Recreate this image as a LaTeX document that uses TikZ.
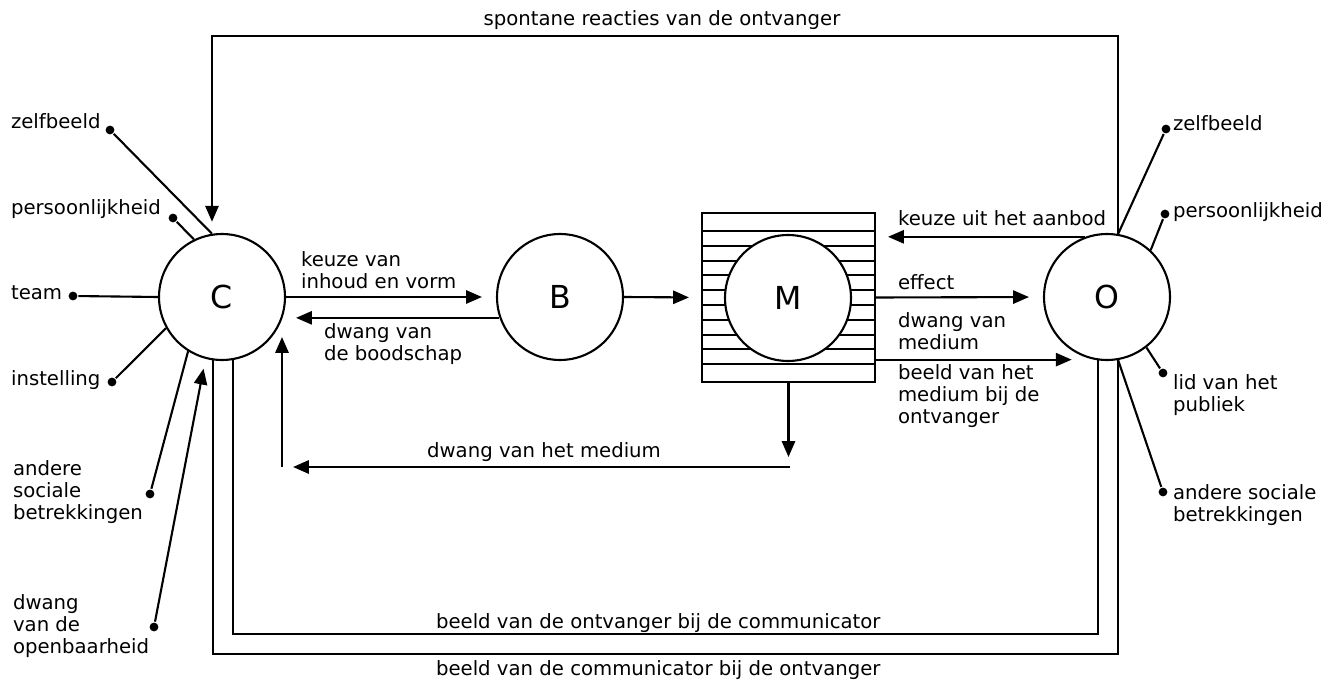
\documentclass[tikz,border=0pt]{standalone}
\usepackage{fontspec}
\setmainfont{DejaVu Sans}
\usetikzlibrary{arrows.meta}

\tikzset{
  rondje/.style={draw, circle, fill=white, minimum size=2.52cm, inner sep=0pt, font=\fontsize{18}{20}\selectfont},
  punt/.style={circle, fill, inner sep=0pt, minimum size=5pt},
  tekst/.style={anchor=west, align=left, inner sep=0pt},
  pijl/.style={-{Triangle[length=9pt,width=7.5pt]}},
}

\begin{document}
\begin{tikzpicture}[x=0.02cm, y=-0.02cm, line width=1.2pt, font=\fontsize{11.2}{12.5}\selectfont]
        \useasboundingbox (0,0) rectangle (1336,682);

        % medium met strepen
        \node[draw, minimum width=3.46cm, minimum height=3.38cm, inner sep=0pt] (Mbox) at (788.5,297.5) {};
        \foreach \i in {1,...,10}
            \draw (702,{231+(\i-1)*14.8}) -- (875,{231+(\i-1)*14.8});

        \node[rondje] (C) at (222,297) {C};
        \node[rondje] (B) at (560,297) {B};
        \node[rondje] (M) at (788,298) {M};
        \node[rondje] (O) at (1107,297) {O};

        % communicator
        \node[punt] (cz) at (110,130) {};
        \node[punt] (cp) at (173,218) {};
        \node[punt] (ct) at (73,296) {};
        \node[punt] (ci) at (112,382) {};
        \node[punt] (ca) at (150,494) {};
        \node[punt] (cd) at (154,627) {};
        \node[tekst] (lcz) at (10,121) {zelfbeeld};
        \node[tekst] (lcp) at (10,209) {persoonlijkheid};
        \node[tekst] (lct) at (10,293) {team};
        \node[tekst] (lci) at (10,380) {instelling};
        \node[tekst] (lca) at (12,492) {andere\\sociale\\betrekkingen};
        \node[tekst] (lcd) at (12,626) {dwang\\van de\\openbaarheid};
        \draw (cz) -- (C.99);
        \draw (cp) -- (C.116);
        \draw (ct) -- (C.180);
        \draw (ci) -- (C.209);
        \draw (ca) -- (C.238);
        \draw[pijl, shorten >=2mm] (cd) -- (C.255);

        % ontvanger
        \node[punt] (oz) at (1166,129) {};
        \node[punt] (op) at (1165,214) {};
        \node[punt] (ol) at (1163,373) {};
        \node[punt] (oa) at (1163,492) {};
        \node[tekst] (loz) at (1172,123) {zelfbeeld};
        \node[tekst] (lop) at (1172,212) {persoonlijkheid};
        \node[tekst] (lol) at (1172,395) {lid van het\\publiek};
        \node[tekst] (loa) at (1172,505) {andere sociale\\betrekkingen};
        \draw (O.80) -- (oz);
        \draw (O.47) -- (op);
        \draw (O.308) -- (ol);
        \draw (O.280) -- (oa);

        % terugkoppelingen
        \coordinate (boven) at (665,36);
        \coordinate (onder1) at (665,634);
        \coordinate (onder2) at (665,654);
        \draw[pijl, shorten >=2.4mm] (O.80) |- (boven) -| (C.99);
        \draw (C.280) |- (onder1) -| (O.262);
        \draw (C.262) |- (onder2) -| (O.280);
        \node (lboven) at (662,20) {spontane reacties van de ontvanger};
        \node[tekst] (londer1) at (435,623) {beeld van de ontvanger bij de communicator};
        \node[tekst] (londer2) at (435,670) {beeld van de communicator bij de ontvanger};

        % tussen C, B, M en O
        \draw[pijl, shorten >=2.8mm] (C.east) -- (B.west);
        \draw[pijl, shorten >=2mm] (B.199) -- (B.199 -| C.east);
        \draw[pijl, shorten >=2.4mm] (B.east) -- (Mbox.west);
        \draw[pijl, shorten >=2.8mm] (Mbox.east) -- (O.west);
        \draw[pijl, shorten >=4.4mm] (Mbox.east |- O.258) -- (O.258);
        \draw[pijl, shorten >=2.4mm] (O.110) -- (O.110 -| Mbox.east);
        \node[tekst] (lkv) at (300,270) {keuze van\\inhoud en vorm};
        \node[tekst] (ldb) at (323,344) {dwang van\\de boodschap};
        \node[tekst] (lef) at (897,282) {effect};
        \node[tekst] (ldm) at (897,331) {dwang van\\medium};
        \node[tekst] (lbm) at (897,396) {beeld van het\\medium bij de\\ontvanger};
        \node[tekst] (lka) at (897,218) {keuze uit het aanbod};

        % dwang van het medium
        \coordinate (mhoek) at (790,467);
        \coordinate (choek) at (282,467);
        \draw[pijl, shorten >=2mm] (Mbox.south) -- (Mbox.south |- mhoek);
        \draw[pijl, shorten >=2.2mm] (mhoek) -- (choek);
        \draw[pijl] (choek) -- ++(0,-130);
        \node (ldh) at (544,452) {dwang van het medium};
\end{tikzpicture}
\end{document}
